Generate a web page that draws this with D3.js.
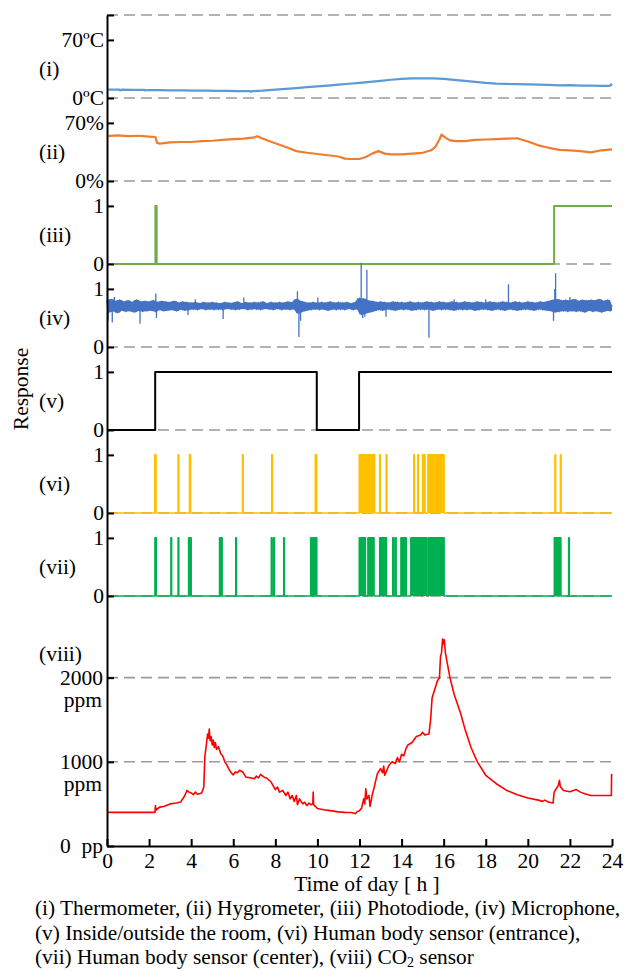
<!DOCTYPE html>
<html>
<head>
<meta charset="utf-8">
<script src="https://cdn.jsdelivr.net/npm/d3@7"></script>
<style>
body{margin:0;background:#fff}
svg text{font-family:"Liberation Serif","Times New Roman",serif;fill:#000}
</style>
</head>
<body>
<svg id="chart" width="627" height="972"></svg>
<script>
// time of day [h] vs reading
var tempSeries = [[0,10.2],[0.6,10.0],[0.62,9.2],[0.7,10.0],[1.2,9.8],[1.8,9.7],[1.82,9.0],[1.9,9.6],[2.5,9.4],[3.0,9.2],[3.6,9.1],[4.2,8.9],[4.8,8.8],[5.2,8.6],[5.6,8.5],[6.2,8.4],[6.8,8.3],[6.85,7.5],[6.9,8.3],[7.4,8.8],[8.0,10.0],[8.5,11.0],[9.0,12.0],[9.5,13.2],[10.0,14.0],[10.5,15.0],[11.0,16.2],[11.5,17.2],[12.0,18.2],[12.5,19.4],[13.0,20.6],[13.5,22.0],[14.0,23.0],[14.5,23.6],[15.0,23.8],[15.5,23.6],[16.0,23.0],[16.5,21.8],[17.0,20.6],[17.5,19.4],[18.0,18.2],[18.5,17.4],[19.0,16.9],[19.5,16.6],[20.0,16.4],[20.5,16.2],[21.0,15.8],[21.5,15.3],[22.0,15.6],[22.5,15.0],[23.0,14.8],[23.5,14.6],[23.9,14.6],[23.95,16.5],[24,15.0]];

var humSeries = [[0,54],[0.5,55],[1,54],[1.5,54.5],[2,53.5],[2.3,53],[2.38,46],[2.5,45],[3,46.5],[3.5,47],[4,47],[4.5,48],[5,48.5],[5.5,49.5],[6,50.5],[6.5,51],[7,52.5],[7.15,54],[7.3,52],[7.6,49],[8,45.5],[8.5,41],[9,36],[9.5,34],[10,32.5],[10.5,31],[11,29.5],[11.3,27],[11.6,26.5],[12,26.5],[12.3,29],[12.6,33],[12.9,36],[13.2,33],[13.5,32],[14,32],[14.5,33],[15,34],[15.4,37],[15.6,41],[15.8,50],[15.9,56],[16.1,52],[16.3,49],[16.6,48],[17,48],[17.5,49.5],[18,50],[18.5,50.5],[19,51],[19.5,51.5],[20,47.5],[20.5,43],[21,40],[21.5,37.5],[22,37],[22.5,36],[23,34.5],[23.5,37],[24,38]];

var lightSeries = [[0,0],[2.30,1],[2.36,0],[21.25,1],[24,1]];
var roomSeries = [[0,0],[2.29,1],[9.97,0],[11.98,1],[24,1]];

var entranceOn = [[2.27,2.33],[3.38,3.41],[3.92,3.97],[6.44,6.47],[7.83,7.86],[9.9,9.96],[11.99,12.1],[12.12,12.3],[12.37,12.5],[12.53,12.72],[12.96,12.99],[13.27,13.30],[14.58,14.61],[14.77,14.80],[15.0,15.04],[15.07,15.11],[15.25,15.6],[15.62,16.02],[21.29,21.32],[21.55,21.58]];

var centerOn = [[2.28,2.34],[3.04,3.07],[3.38,3.41],[3.88,3.92],[3.95,4.0],[5.35,5.38],[5.43,5.47],[6.12,6.15],[7.81,7.84],[7.92,7.95],[8.40,8.43],[9.68,9.71],[9.76,9.80],[9.86,9.97],[11.99,12.2],[12.22,12.28],[12.40,12.55],[12.57,12.69],[12.96,13.12],[13.15,13.28],[13.58,13.62],[13.70,13.74],[13.97,14.08],[14.10,14.22],[14.44,14.95],[14.97,15.20],[15.28,16.02],[21.26,21.45],[21.48,21.57],[21.94,21.97]];

// microphone, one reading every 0.1 h
var micValues = [
0.80,0.60,0.82,0.62,0.79,0.59,0.81,0.63,0.78,0.61,
0.80,0.62,0.77,0.60,0.81,0.63,0.78,0.61,0.79,0.62,
0.78,0.63,0.80,0.61,0.77,0.64,0.79,0.62,0.78,0.63,
0.77,0.64,0.79,0.62,0.76,0.65,0.78,0.63,0.77,0.64,
0.76,0.65,0.77,0.64,0.75,0.66,0.77,0.64,0.76,0.65,
0.77,0.64,0.76,0.65,0.75,0.64,0.77,0.66,0.76,0.65,
0.76,0.64,0.78,0.65,0.75,0.66,0.77,0.64,0.76,0.65,
0.77,0.65,0.76,0.64,0.78,0.66,0.75,0.65,0.77,0.64,
0.76,0.66,0.77,0.64,0.76,0.65,0.78,0.64,0.77,0.65,
0.82,0.58,0.79,0.61,0.77,0.63,0.76,0.64,0.77,0.65,
0.76,0.64,0.77,0.65,0.76,0.63,0.78,0.65,0.76,0.64,
0.77,0.65,0.76,0.64,0.77,0.66,0.75,0.64,0.77,0.65,
0.84,0.56,0.83,0.58,0.80,0.60,0.79,0.62,0.77,0.64,
0.78,0.63,0.77,0.65,0.76,0.64,0.78,0.63,0.77,0.65,
0.77,0.64,0.76,0.65,0.78,0.63,0.76,0.64,0.77,0.65,
0.76,0.64,0.78,0.65,0.77,0.63,0.76,0.65,0.78,0.64,
0.77,0.65,0.76,0.64,0.78,0.63,0.77,0.65,0.76,0.64,
0.78,0.64,0.77,0.65,0.76,0.63,0.78,0.64,0.77,0.65,
0.76,0.64,0.78,0.63,0.77,0.65,0.76,0.64,0.78,0.63,
0.77,0.65,0.76,0.64,0.78,0.63,0.77,0.64,0.76,0.65,
0.78,0.64,0.77,0.63,0.76,0.65,0.78,0.64,0.77,0.63,
0.79,0.62,0.81,0.60,0.82,0.61,0.80,0.62,0.81,0.61,
0.80,0.62,0.82,0.61,0.79,0.62,0.81,0.60,0.80,0.63,
0.81,0.61,0.80,0.62,0.82,0.60,0.79,0.62,0.81,0.62,
0.72];
var micBase = 0.70;
var micSpikes = [[0.02,0.97],[0.05,0.45],[0.25,0.42],[0.35,0.86],[1.57,0.40],[2.32,0.92],[2.35,0.50],[3.85,0.55],[4.2,0.82],[5.52,0.48],[6.5,0.85],[9.05,0.96],[9.12,0.17],[9.2,0.45],[10.02,0.85],[12.08,1.45],[12.15,0.50],[12.25,0.52],[12.35,1.33],[13.26,0.52],[15.3,0.16],[16.5,0.82],[18.0,0.82],[19.08,1.08],[21.22,0.45],[21.28,1.0],[21.32,1.27],[22.0,0.86]];

var co2Series = [[0,400],[2.28,400],[2.3,480],[2.33,425],[2.4,440],[2.5,462],[2.7,470],[3.0,500],[3.3,510],[3.5,522],[3.7,600],[3.8,660],[3.9,640],[4.0,630],[4.1,610],[4.2,640],[4.3,615],[4.5,630],[4.6,700],[4.65,1060],[4.72,1200],[4.78,1330],[4.82,1280],[4.86,1390],[4.9,1250],[4.95,1300],[5.0,1200],[5.05,1260],[5.1,1170],[5.15,1230],[5.2,1150],[5.3,1180],[5.4,1100],[5.5,1070],[5.6,1000],[5.7,960],[5.8,910],[5.9,870],[6.0,845],[6.1,880],[6.2,870],[6.3,900],[6.45,880],[6.6,818],[6.8,810],[7.0,800],[7.1,830],[7.2,810],[7.3,850],[7.45,820],[7.6,805],[7.8,760],[8.0,670],[8.1,700],[8.2,640],[8.35,660],[8.5,600],[8.6,640],[8.7,560],[8.8,600],[8.9,530],[9.0,600],[9.05,490],[9.15,560],[9.3,500],[9.4,520],[9.5,480],[9.6,510],[9.7,490],[9.78,500],[9.8,640],[9.82,490],[9.9,470],[10.0,445],[10.3,430],[10.6,420],[11.0,405],[11.3,400],[11.6,398],[11.8,385],[11.9,410],[12.0,420],[12.1,450],[12.2,560],[12.25,500],[12.3,680],[12.35,560],[12.45,600],[12.5,470],[12.6,600],[12.7,700],[12.85,860],[13.0,920],[13.1,870],[13.15,950],[13.2,840],[13.3,900],[13.4,960],[13.55,1000],[13.7,980],[13.8,1050],[13.9,1000],[14.0,1090],[14.1,1070],[14.2,1150],[14.3,1200],[14.5,1230],[14.7,1300],[14.9,1320],[15.0,1350],[15.1,1320],[15.3,1330],[15.38,1500],[15.45,1760],[15.6,1880],[15.7,1960],[15.8,2000],[15.85,2250],[15.9,2300],[15.95,2460],[16.0,2400],[16.03,2450],[16.08,2300],[16.15,2200],[16.3,2000],[16.5,1800],[16.8,1580],[17.0,1400],[17.3,1170],[17.6,1000],[18.0,840],[18.5,740],[19.0,660],[19.5,610],[20.0,570],[20.5,545],[20.7,530],[20.8,545],[21.0,520],[21.2,510],[21.25,640],[21.35,680],[21.45,720],[21.5,780],[21.55,700],[21.7,660],[22.0,645],[22.3,670],[22.5,640],[22.7,620],[23.0,600],[23.5,600],[23.97,600],[23.98,850],[24,840]];

var panelNames = ["(i)","(ii)","(iii)","(iv)","(v)","(vi)","(vii)","(viii)"];
var panelTicks = [
  [[70,"70ºC"],[0,"0ºC"]],
  [[70,"70%"],[0,"0%"]],
  [[1,"1"],[0,"0"]],
  [[1,"1"],[0,"0"]],
  [[1,"1"],[0,"0"]],
  [[1,"1"],[0,"0"]],
  [[1,"1"],[0,"0"]]
];
var co2Ticks = [[2000,"2000"],[1000,"1000"],[0,"0\u00a0\u00a0pp"]];
var xTicks = [0,2,4,6,8,10,12,14,16,18,20,22,24];
var captionLines = [
  "(i) Thermometer, (ii) Hygrometer, (iii) Photodiode, (iv) Microphone,",
  "(v) Inside/outside the room, (vi) Human body sensor (entrance),",
  "(vii) Human body sensor (center), (viii) CO"
];

var svg = d3.select("#chart");
var left = 107, right = 612, top0 = 15, panelH = 83, bottom = 846;
var font = "Liberation Serif, Times New Roman, serif";
var fs = 21.5;

var x = d3.scaleLinear().domain([0,24]).range([left,right]);
var ys = [];
for (var i = 0; i < 7; i++){
  var b = top0 + (i+1)*panelH;
  ys.push(d3.scaleLinear().domain([0, i < 2 ? 100 : 1/0.7]).range([b, b-panelH]));
}
var yCo2 = d3.scaleLinear().domain([0,2970]).range([bottom, top0 + 7*panelH]);

// dashed guide lines
var guides = [ys[0](100)];
ys.forEach(function(y){ guides.push(y(0)); });
guides.push(yCo2(2000), yCo2(1000));
svg.append("g").selectAll("line").data(guides).enter().append("line")
  .attr("x1", left).attr("x2", right)
  .attr("y1", function(d){return d;}).attr("y2", function(d){return d;})
  .attr("stroke", "#9a9a9a").attr("stroke-width", 1.6)
  .attr("stroke-dasharray", "11,6");

function drawLine(data, y, color, w, curve){
  var line = d3.line().x(function(d){return x(d[0]);}).y(function(d){return y(d[1]);});
  if (curve) line.curve(curve);
  svg.append("path").datum(data).attr("d", line)
    .attr("fill", "none").attr("stroke", color).attr("stroke-width", w)
    .attr("stroke-linejoin", "round");
}
function pulses(list){
  var s = [[0,0]];
  list.forEach(function(p){ s.push([p[0],1]); s.push([p[1],0]); });
  s.push([24,0]);
  return s;
}
function drawPulses(list, y, color){
  var data = pulses(list);
  var area = d3.area().x(function(d){return x(d[0]);}).y0(y(0)).y1(function(d){return y(d[1]);})
    .curve(d3.curveStepAfter);
  svg.append("path").datum(data).attr("d", area).attr("fill", color);
  drawLine(data, y, color, 1.6, d3.curveStepAfter);
}

drawLine(tempSeries, ys[0], "#5b9bd5", 2.2);
drawLine(humSeries, ys[1], "#ed7d31", 2.2);
drawLine(lightSeries, ys[2], "#70ad47", 2, d3.curveStepAfter);

// microphone: filled envelope of neighbouring readings, then the trace itself
var micSeries = micValues.map(function(v, k){ return [k*0.1, v]; });
var micBand = micValues.map(function(v, k){
  var near = micValues.slice(Math.max(0, k-1), k+2);
  return [k*0.1, d3.min(near), d3.max(near)];
});
svg.append("path").datum(micBand)
  .attr("d", d3.area().x(function(d){return x(d[0]);})
    .y0(function(d){return ys[3](d[1]);}).y1(function(d){return ys[3](d[2]);}))
  .attr("fill", "#4472c4");
drawLine(micSeries, ys[3], "#4472c4", 1.4);
svg.append("g").selectAll("line").data(micSpikes).enter().append("line")
  .attr("x1", function(d){return x(d[0]);}).attr("x2", function(d){return x(d[0]);})
  .attr("y1", ys[3](micBase)).attr("y2", function(d){return ys[3](d[1]);})
  .attr("stroke", "#4472c4").attr("stroke-width", 1.3);

drawLine(roomSeries, ys[4], "#000", 2, d3.curveStepAfter);
drawPulses(entranceOn, ys[5], "#ffc000");
drawPulses(centerOn, ys[6], "#00b050");
drawLine(co2Series, yCo2, "#ff0000", 1.6);

// left axes, one per panel
function styleAxis(g){
  g.attr("font-family", font).attr("font-size", fs);
  g.select(".domain").attr("stroke", "#000").attr("stroke-width", 2);
  g.selectAll(".tick line").attr("stroke", "#000").attr("stroke-width", 2);
  g.selectAll(".tick text").attr("fill", "#000");
}
ys.forEach(function(y, k){
  var vals = panelTicks[k].map(function(t){return t[0];});
  if (k == 0) vals.push(100);
  var g = svg.append("g").attr("transform", "translate(" + left + ",0)")
    .call(d3.axisLeft(y).tickValues(vals).tickSizeInner(-7).tickSizeOuter(0).tickPadding(3)
      .tickFormat(function(v){
        var t = panelTicks[k].find(function(p){return p[0] == v;});
        return t ? t[1] : "";
      }));
  styleAxis(g);
});
var gc = svg.append("g").attr("transform", "translate(" + left + ",0)")
  .call(d3.axisLeft(yCo2).tickValues(co2Ticks.map(function(t){return t[0];}))
    .tickSizeInner(-7).tickSizeOuter(0).tickPadding(4)
    .tickFormat(function(v){ return co2Ticks.find(function(p){return p[0] == v;})[1]; }));
styleAxis(gc);
gc.selectAll(".tick").filter(function(d){return d > 0;}).append("text")
  .attr("x", -5).attr("y", 22).attr("dy", "0.32em").attr("text-anchor", "end")
  .attr("fill", "#000").text("ppm");

// bottom axis
var gx = svg.append("g").attr("transform", "translate(0," + bottom + ")")
  .call(d3.axisBottom(x).tickValues(xTicks).tickSizeInner(-7).tickSizeOuter(0).tickPadding(7));
styleAxis(gx);

// panel names
var nameY = ys.map(function(y, k){ return (y(0) + y(panelTicks[k][0][0]))/2; });
nameY.push(yCo2(2280));
svg.append("g").selectAll("text").data(panelNames).enter().append("text")
  .attr("x", 39).attr("y", function(d, k){return nameY[k];}).attr("dy", "0.32em")
  .attr("font-size", fs).text(function(d){return d;});

svg.append("text").attr("transform", "translate(28,389) rotate(-90)")
  .attr("text-anchor", "middle").attr("font-size", fs).text("Response");

svg.append("text").attr("x", 367).attr("y", 891).attr("text-anchor", "middle")
  .attr("font-size", fs).text("Time of day [ h ]");

var cap = svg.append("g").selectAll("text").data(captionLines).enter().append("text")
  .attr("x", 35).attr("y", function(d, k){return 915 + k*24.5;})
  .attr("font-size", 21.3).text(function(d){return d;});
var last = d3.select(cap.nodes()[2]);
last.append("tspan").attr("font-size", 14).attr("dy", 2.5).text("2");
last.append("tspan").attr("dy", -2.5).text(" sensor");
</script>
</body>
</html>
